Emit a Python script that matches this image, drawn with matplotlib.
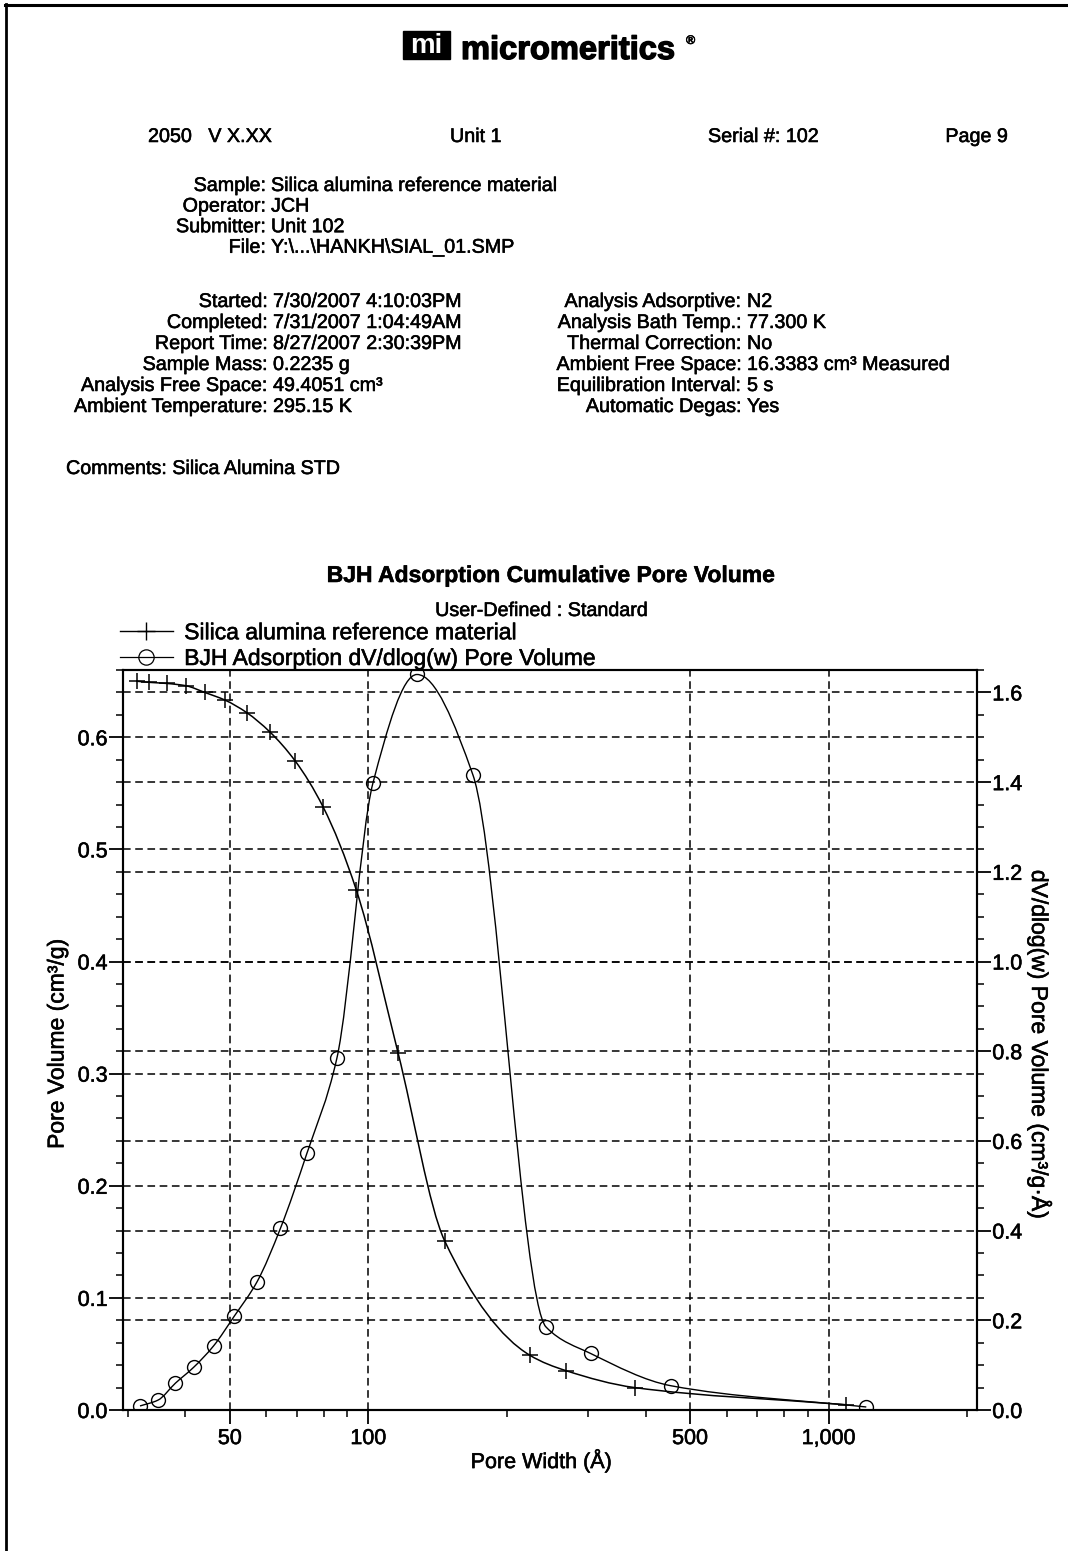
import numpy as np
import matplotlib
matplotlib.use('Agg')
import matplotlib.pyplot as plt
import matplotlib.patheffects as pe
from matplotlib.text import Text
from matplotlib.path import Path
from matplotlib.patches import PathPatch, Rectangle
from matplotlib.lines import Line2D
from matplotlib.ticker import FixedLocator, MultipleLocator, FuncFormatter, LogLocator, NullFormatter

plt.rcParams['font.family'] = ['Liberation Sans', 'DejaVu Sans']

# BJH adsorption cumulative pore volume (left axis)
cum_width = [31.4, 33.4, 36.5, 40.1, 44.1, 48.9, 54.4, 61.0, 69.3, 79.7,
             94.1, 116.0, 146.4, 223.9, 269.1, 378.8, 1091]
cum_volume = [0.650, 0.649, 0.648, 0.646, 0.640, 0.633, 0.622, 0.605, 0.579, 0.538,
              0.464, 0.3185, 0.151, 0.049, 0.035, 0.020, 0.0047]

# BJH adsorption dV/dlog(w) pore volume (right axis)
dv_width = [31.9, 34.9, 38.1, 41.7, 46.1, 51.1, 57.3, 64.4, 73.5, 85.4,
            102.3, 127.5, 168.7, 243.2, 304.0, 454.7, 1207]
dv_value = [0.009, 0.022, 0.060, 0.095, 0.143, 0.209, 0.286, 0.405, 0.572, 0.784,
            1.398, 1.640, 1.416, 0.185, 0.126, 0.054, 0.0067]

x_ticks = [50, 100, 500, 1000]

header_left = [("Sample:", "Silica alumina reference material"),
               ("Operator:", "JCH"),
               ("Submitter:", "Unit 102"),
               ("File:", "Y:\\...\\HANKH\\SIAL_01.SMP")]
info_left = [("Started:", "7/30/2007 4:10:03PM"),
             ("Completed:", "7/31/2007 1:04:49AM"),
             ("Report Time:", "8/27/2007 2:30:39PM"),
             ("Sample Mass:", "0.2235 g"),
             ("Analysis Free Space:", "49.4051 cm³"),
             ("Ambient Temperature:", "295.15 K")]
info_right = [("Analysis Adsorptive:", "N2"),
              ("Analysis Bath Temp.:", "77.300 K"),
              ("Thermal Correction:", "No"),
              ("Ambient Free Space:", "16.3383 cm³ Measured"),
              ("Equilibration Interval:", "5 s"),
              ("Automatic Degas:", "Yes")]


def smooth_path(xs, ys):
    # monotone cubic (pchip) through the points, in log-x, drawn as bezier
    lx = np.log10(np.asarray(xs, float))
    y = np.asarray(ys, float)
    h = np.diff(lx)
    d = np.diff(y) / h
    m = np.zeros_like(y)
    m[0], m[-1] = d[0], d[-1]
    for k in range(1, len(y) - 1):
        if d[k - 1] * d[k] > 0:
            w1 = 2 * h[k] + h[k - 1]
            w2 = h[k] + 2 * h[k - 1]
            m[k] = (w1 + w2) / (w1 / d[k - 1] + w2 / d[k])
    verts = [(xs[0], y[0])]
    codes = [Path.MOVETO]
    for k in range(len(h)):
        verts.append((10 ** (lx[k] + h[k] / 3), y[k] + m[k] * h[k] / 3))
        verts.append((10 ** (lx[k + 1] - h[k] / 3), y[k + 1] - m[k + 1] * h[k] / 3))
        verts.append((xs[k + 1], y[k + 1]))
        codes += [Path.CURVE4] * 3
    return Path(verts, codes)


W, H = 1068, 1551
fig = plt.figure(figsize=(W / 100, H / 100), dpi=100)


def fx(px):
    return px / W


def fy(py):
    return 1 - py / H


# page edge from the scan
fig.add_artist(Line2D([fx(5), 1], [fy(5), fy(5)], color='black', lw=2.2, transform=fig.transFigure))
fig.add_artist(Line2D([fx(6), fx(6)], [fy(4), 0], color='black', lw=2.0, transform=fig.transFigure))

# logo
fig.add_artist(Rectangle((fx(403), fy(59)), fx(450) - fx(403), fy(31) - fy(59),
                         transform=fig.transFigure, color='black'))
fig.text(fx(426.5), fy(46), 'mi', color='white', fontsize=20, fontweight='bold',
         ha='center', va='center')
logo = fig.text(fx(461), fy(59), 'micromeritics', fontsize=23.5, fontweight='bold',
                ha='left', va='baseline')
fig.text(fx(686), fy(44), '®', fontsize=9, fontweight='bold', ha='left', va='baseline')

fs = 14.2
dy = 2.5
fig.text(fx(148), fy(134 + dy), '2050   V X.XX', fontsize=fs, ha='left', va='center')
fig.text(fx(450), fy(134 + dy), 'Unit 1', fontsize=fs, ha='left', va='center')
fig.text(fx(708), fy(134 + dy), 'Serial #: 102', fontsize=fs, ha='left', va='center')
fig.text(fx(1008), fy(134 + dy), 'Page 9', fontsize=fs, ha='right', va='center')

for i, (lab, val) in enumerate(header_left):
    yy = fy(183 + dy + i * 20.6)
    fig.text(fx(266), yy, lab, fontsize=fs, ha='right', va='center')
    fig.text(fx(271), yy, val, fontsize=fs, ha='left', va='center')

for i, (lab, val) in enumerate(info_left):
    yy = fy(299 + dy + i * 21)
    fig.text(fx(268), yy, lab, fontsize=fs, ha='right', va='center')
    fig.text(fx(273), yy, val, fontsize=fs, ha='left', va='center')

for i, (lab, val) in enumerate(info_right):
    yy = fy(299 + dy + i * 21)
    fig.text(fx(742), yy, lab, fontsize=fs, ha='right', va='center')
    fig.text(fx(747), yy, val, fontsize=fs, ha='left', va='center')

fig.text(fx(66), fy(466 + dy), 'Comments: Silica Alumina STD', fontsize=fs, ha='left', va='center')

fig.text(fx(550), fy(573 + dy), 'BJH Adsorption Cumulative Pore Volume', fontsize=16.5,
         fontweight='bold', ha='center', va='center')
fig.text(fx(542), fy(608 + dy), 'User-Defined : Standard', fontsize=fs, ha='center', va='center')

# chart
ax = fig.add_axes([fx(123), fy(1410), fx(977) - fx(123), fy(670) - fy(1410)])
ax2 = ax.twinx()

ax.set_xscale('log')
ax.set_xlim(29.3, 2100)
ax.set_ylim(0, 0.66)
ax2.set_ylim(0, 1.65)

grid_kw = dict(color='black', linestyle=(0, (5, 3)), linewidth=1.1)
ax.xaxis.set_major_locator(FixedLocator(x_ticks))
ax.xaxis.set_major_formatter(FuncFormatter(lambda v, p: f'{int(v):,}'))
ax.xaxis.set_minor_locator(LogLocator(base=10, subs=np.arange(2, 10)))
ax.xaxis.set_minor_formatter(NullFormatter())
ax.yaxis.set_major_locator(MultipleLocator(0.1))
ax.yaxis.set_minor_locator(MultipleLocator(0.02))
ax.yaxis.set_major_formatter(FuncFormatter(lambda v, p: f'{v:.1f}'))
ax2.yaxis.set_major_locator(MultipleLocator(0.2))
ax2.yaxis.set_minor_locator(MultipleLocator(0.05))
ax2.yaxis.set_major_formatter(FuncFormatter(lambda v, p: f'{v:.1f}'))
ax.grid(True, which='major', **grid_kw)
ax2.grid(True, which='major', axis='y', **grid_kw)

for a in (ax, ax2):
    a.tick_params(which='major', direction='out', length=10, width=1.3, labelsize=15.5, pad=1)
    a.tick_params(which='minor', direction='out', length=5, width=1.1)
    for s in a.spines.values():
        s.set_linewidth(1.5)
ax.tick_params(axis='x', which='major', pad=3)
ax.set_facecolor('none')

ax.add_patch(PathPatch(smooth_path(cum_width, cum_volume), fill=False, ec='black', lw=1.1))
ax2.add_patch(PathPatch(smooth_path(dv_width, dv_value), fill=False, ec='black', lw=1.0))
ax.plot(cum_width, cum_volume, ls='none', marker='+', ms=11, mew=1.1, color='black')
ax2.plot(dv_width, dv_value, ls='none', marker='o', ms=10, mew=1.0, mfc='none', mec='black')

h1 = Line2D([], [], color='black', lw=1.0, marker='+', ms=13, mew=1.0)
h2 = Line2D([], [], color='black', lw=0.9, marker='o', ms=11, mew=0.9, mfc='none')
fig.legend([h1, h2], ['Silica alumina reference material', 'BJH Adsorption dV/dlog(w) Pore Volume'],
           loc='lower left', bbox_to_anchor=(fx(120), fy(670)), bbox_transform=fig.transFigure,
           frameon=False, fontsize=16.5, handlelength=2.3, handletextpad=0.5,
           labelspacing=0.12, borderpad=0, borderaxespad=0, numpoints=1)

fig.text(fx(57), fy(1044), 'Pore Volume (cm³/g)', fontsize=16.5, rotation=90, ha='center', va='center')
fig.text(fx(1040), fy(1044), 'dV/dlog(w) Pore Volume (cm³/g·Å)', fontsize=16.5, rotation=270,
         ha='center', va='center')
fig.text(fx(541), fy(1461), 'Pore Width (Å)', fontsize=15.5, ha='center', va='center')

# scanned print looks heavier than a clean render
fig.canvas.draw()
for t in fig.findobj(Text):
    if t.get_color() == 'black' and t.get_text():
        t.set_path_effects([pe.withStroke(linewidth=0.4, foreground='black')])
logo.set_path_effects([pe.withStroke(linewidth=1.0, foreground='black')])

fig.savefig('out.png', dpi=100)
